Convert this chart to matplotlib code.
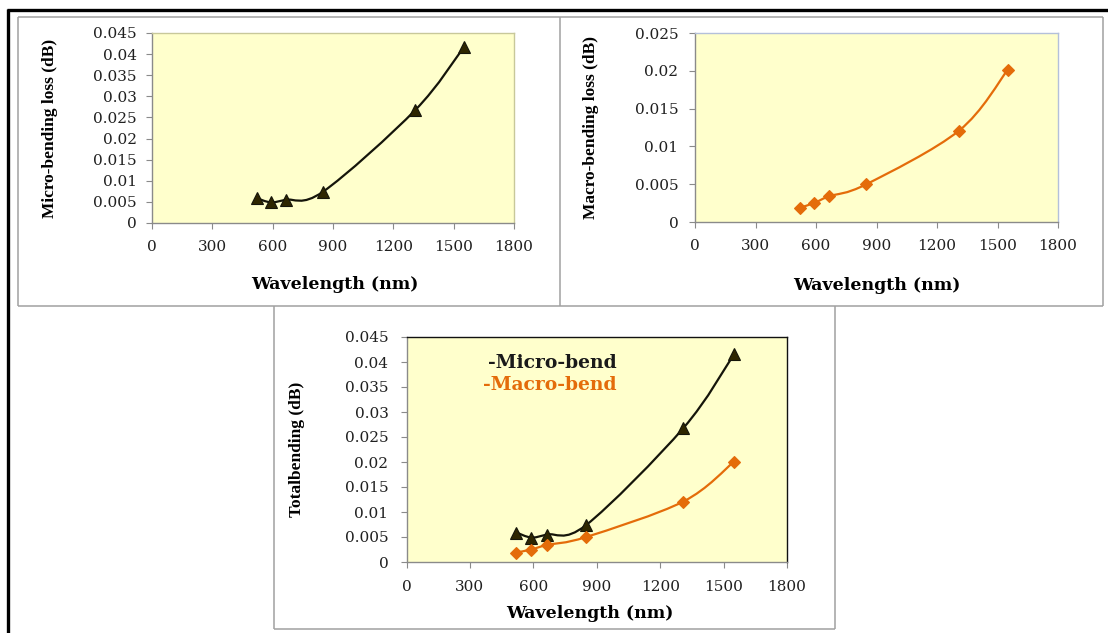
import numpy as np
import matplotlib
matplotlib.use("Agg")
import matplotlib.pyplot as plt
from matplotlib.path import Path
from matplotlib.patches import PathPatch
from matplotlib.lines import Line2D

# ---- data ----
wavelength = [520, 590, 665, 850, 1310, 1550]
micro_loss = [0.0059, 0.0049, 0.0055, 0.0074, 0.0268, 0.0416]
macro_loss = [0.0019, 0.0025, 0.0034, 0.0050, 0.0121, 0.0201]
x_ticks = [0, 300, 600, 900, 1200, 1500, 1800]
micro_ticks = [0, 0.005, 0.01, 0.015, 0.02, 0.025, 0.03, 0.035, 0.04, 0.045]
macro_ticks = [0, 0.005, 0.01, 0.015, 0.02, 0.025]
micro_tick_labels = ["0", "0.005", "0.01", "0.015", "0.02", "0.025", "0.03", "0.035", "0.04", "0.045"]
macro_tick_labels = ["0", "0.005", "0.01", "0.015", "0.02", "0.025"]

W, H = 1108, 633
fig = plt.figure(figsize=(W / 100, H / 100), dpi=100)
fig.patch.set_facecolor("white")

BLACK_LINE = "#15150a"
BLACK_MARK = "#2e2600"
ORANGE = "#E46C0A"
BG = "#FFFFCC"
TICK_FONT = dict(family="DejaVu Serif", size=11)
XLAB_FONT = dict(family="DejaVu Serif", size=12.5, weight="bold")
YLAB_FONT = dict(family="Liberation Serif", size=12.5, weight="bold")


def rect(l, t, r, b):
    return [l / W, 1 - b / H, (r - l) / W, (b - t) / H]


def smooth_path(x, y):
    pts = np.column_stack([x, y]).astype(float)
    n = len(pts)
    verts = [pts[0]]
    codes = [Path.MOVETO]
    for i in range(n - 1):
        p0 = pts[i - 1] if i > 0 else pts[i]
        p1 = pts[i]
        p2 = pts[i + 1]
        p3 = pts[i + 2] if i + 2 < n else pts[i + 1]
        c1 = p1 + (p2 - p0) / 6.0
        c2 = p2 - (p3 - p1) / 6.0
        verts += [c1, c2, p2]
        codes += [Path.CURVE4] * 3
    return Path(verts, codes)


def series(ax, y, color, marker, mfc, ms):
    ax.add_patch(PathPatch(smooth_path(wavelength, y), facecolor="none",
                           edgecolor=color, lw=1.6, zorder=3))
    ax.plot(wavelength, y, linestyle="none", marker=marker, ms=ms,
            mfc=mfc, mec=color, mew=0.8, zorder=4)


def style(ax, yticks, ylabels, ymax, border, ylab, ylab_x, xlab_pos, ypad, xpad):
    ax.set_facecolor(BG)
    ax.set_xlim(0, 1800)
    ax.set_ylim(0, ymax)
    ax.set_xticks(x_ticks)
    ax.set_xticklabels([str(v) for v in x_ticks], **TICK_FONT)
    ax.set_yticks(yticks)
    ax.set_yticklabels(ylabels, **TICK_FONT)
    for s in ax.spines.values():
        s.set_color(border)
        s.set_linewidth(1.0)
    ax.spines["left"].set_color("#8a8a8a")
    ax.spines["bottom"].set_color("#8a8a8a")
    ax.tick_params(axis="both", direction="out", length=4, width=0.8,
                   color="#8a8a8a", labelcolor="#202020")
    ax.tick_params(axis="y", pad=ypad)
    ax.tick_params(axis="x", pad=xpad)
    ax.set_ylabel(ylab, **YLAB_FONT)
    ax.yaxis.set_label_coords(ylab_x, 0.5)
    ax.set_xlabel("Wavelength (nm)", **XLAB_FONT)
    ax.xaxis.set_label_coords(*xlab_pos)


# Panel 1 : micro-bending
ax1 = fig.add_axes(rect(152, 33, 514, 223))
series(ax1, micro_loss, BLACK_LINE, "^", BLACK_MARK, 9)
style(ax1, micro_ticks, micro_tick_labels, 0.045, "#c8c89a",
      "Micro-bending loss (dB)", -0.26, (0.505, -0.28), 7, 8)

# Panel 2 : macro-bending
ax2 = fig.add_axes(rect(695, 33, 1058, 222))
series(ax2, macro_loss, ORANGE, "D", ORANGE, 6.5)
style(ax2, macro_ticks, macro_tick_labels, 0.025, "#b4c0da",
      "Macro-bending loss (dB)", -0.265, (0.5, -0.29), 8, 8)

# Panel 3 : total
ax3 = fig.add_axes(rect(406.5, 337, 787, 562))
series(ax3, micro_loss, BLACK_LINE, "^", BLACK_MARK, 9)
series(ax3, macro_loss, ORANGE, "D", ORANGE, 6.5)
style(ax3, micro_ticks, micro_tick_labels, 0.045, "#111111",
      "Totalbending (dB)", -0.267, (0.482, -0.19), 9, 9)
ax3.text(0.214, 0.884, "-Micro-bend", transform=ax3.transAxes, color="#1a1a1a",
         family="DejaVu Serif", size=13.5, weight="bold", ha="left", va="center")
ax3.text(0.201, 0.787, "-Macro-bend", transform=ax3.transAxes, color=ORANGE,
         family="DejaVu Serif", size=13.5, weight="bold", ha="left", va="center")


# ---- frame lines (figure pixel coordinates) ----
def fline(x0, y0, x1, y1, color, lw):
    fig.add_artist(Line2D([x0 / W, x1 / W], [1 - y0 / H, 1 - y1 / H],
                          transform=fig.transFigure, color=color, lw=lw,
                          solid_capstyle="butt"))


GRAY = "#a0a0a0"
fline(18, 17, 1103, 17, GRAY, 1.1)
fline(18, 17, 18, 306, GRAY, 1.1)
fline(1103, 17, 1103, 306, GRAY, 1.1)
fline(560, 17, 560, 306, GRAY, 1.1)
fline(18, 306, 1103, 306, GRAY, 1.1)
fline(274, 306, 274, 629, GRAY, 1.1)
fline(835, 306, 835, 629, GRAY, 1.1)
fline(274, 629, 835, 629, GRAY, 1.1)
fline(6.5, 10, 1108, 10, "black", 2.4)
fline(8, 8.5, 8, 633, "black", 2.4)

fig.savefig("out.png", dpi=100, facecolor="white")
